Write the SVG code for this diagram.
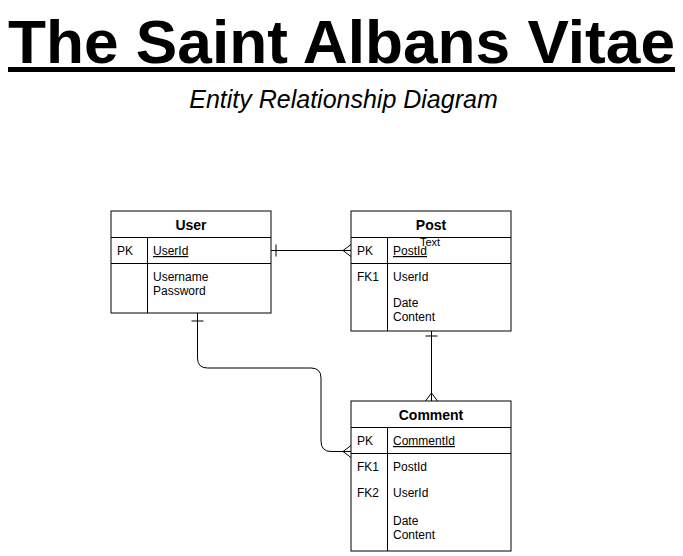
<svg xmlns="http://www.w3.org/2000/svg" width="683" height="556" viewBox="0 0 683 556">
<style>
text{font-family:"Liberation Sans",Arial,sans-serif;fill:#000}
.box{fill:#fff;stroke:#000;stroke-width:1}
.ln{stroke:#000;stroke-width:1;fill:none}
.hd{font-size:14px;font-weight:bold;text-anchor:middle}
.f{font-size:12px}
.u{text-decoration:underline}
</style>
<rect width="683" height="556" fill="#fff"/>
<g id="title">
<text x="341.5" y="63" font-size="62" font-weight="bold" text-anchor="middle" textLength="667" lengthAdjust="spacingAndGlyphs">The Saint Albans Vitae</text>
<rect x="8" y="67" width="667" height="5" fill="#000"/>
<text x="343.5" y="108" font-size="25" font-style="italic" text-anchor="middle">Entity Relationship Diagram</text>
</g>
<g id="connectors">
<path class="ln" d="M271,250.5 H351"/>
<path class="ln" d="M276,244.5 V256.5"/>
<path class="ln" d="M351,244.5 L343,250.5 L351,256.5"/>
<path class="ln" d="M431.5,331 V401"/>
<path class="ln" d="M425.5,336 H437.5"/>
<path class="ln" d="M425.5,401 L431.5,393 L437.5,401"/>
<path class="ln" d="M197.5,313 V358 Q197.5,368 207.5,368 H311 Q321,368 321,378 V441 Q321,451.5 331,451.5 H351"/>
<path class="ln" d="M191.5,321 H203.5"/>
<path class="ln" d="M351,445.5 L343,451.5 L351,457.5"/>
</g>
<g id="user">
<rect class="box" x="111" y="211" width="160" height="102"/>
<path class="ln" d="M111,237.5 H271 M111,263.5 H271 M147.5,237.5 V313"/>
<text class="hd" x="191" y="230">User</text>
<text class="f" x="117" y="255">PK</text>
<text class="f u" x="153" y="255">UserId</text>
<text class="f" x="153" y="281">Username</text>
<text class="f" x="153" y="295">Password</text>
</g>
<g id="post">
<rect class="box" x="351" y="211" width="160" height="120"/>
<path class="ln" d="M351,237.5 H511 M351,263.5 H511 M387.5,237.5 V331"/>
<text class="hd" x="431" y="230">Post</text>
<text class="f" x="357" y="255">PK</text>
<text class="f u" x="393" y="255">PostId</text>
<text x="420" y="246" font-size="11">Text</text>
<text class="f" x="357" y="281">FK1</text>
<text class="f" x="393" y="281">UserId</text>
<text class="f" x="393" y="307">Date</text>
<text class="f" x="393" y="321">Content</text>
</g>
<g id="comment">
<rect class="box" x="351" y="401" width="160" height="150"/>
<path class="ln" d="M351,427.5 H511 M351,453.5 H511 M387.5,427.5 V551"/>
<text class="hd" x="431" y="420">Comment</text>
<text class="f" x="357" y="445">PK</text>
<text class="f u" x="393" y="445">CommentId</text>
<text class="f" x="357" y="471">FK1</text>
<text class="f" x="393" y="471">PostId</text>
<text class="f" x="357" y="497">FK2</text>
<text class="f" x="393" y="497">UserId</text>
<text class="f" x="393" y="525">Date</text>
<text class="f" x="393" y="539">Content</text>
</g>
</svg>
